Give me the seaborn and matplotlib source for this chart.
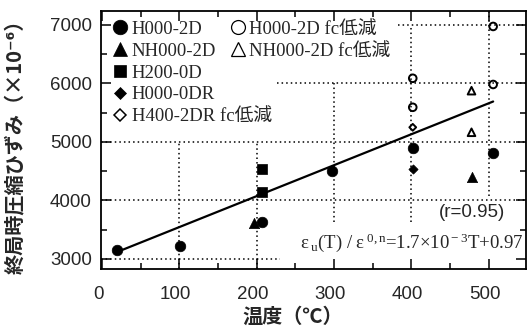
import matplotlib
matplotlib.use("Agg")
import matplotlib.pyplot as plt
from matplotlib.lines import Line2D
from matplotlib.transforms import ScaledTranslation
import numpy as np
import pandas as pd
import seaborn as sns

# ---- measured data: temperature (deg C) vs ultimate compressive strain (x1e-6)
h000_2d_T = [20, 101, 207, 297, 402, 506]
h000_2d_eps = [3155, 3222, 3640, 4510, 4892, 4807]

nh000_2d_T = [197, 478]
nh000_2d_eps = [3620, 4397]

h200_0d_T = [207, 207]
h200_0d_eps = [4530, 4149]

h000_0dr_T = [402]
h000_0dr_eps = [4538]

h400_2dr_fc_T = [402]
h400_2dr_fc_eps = [5251]

h000_2d_fc_T = [402, 402, 506, 506]
h000_2d_fc_eps = [6089, 5593, 6975, 5983]

nh000_2d_fc_T = [478, 478]
nh000_2d_fc_eps = [5877, 5166]

# regression: eps_u(T) / eps0 = 1.7e-3 * T + 0.97
fit_slope = 1.7e-3
fit_intercept = 0.97
fit_eps0 = 3110
fit_T_range = [20, 506]

x_ticks = [0, 100, 200, 300, 400, 500]
y_ticks = [3000, 4000, 5000, 6000, 7000]

sns.set_style("ticks")
plt.rcParams["font.family"] = ["Liberation Sans", "Noto Sans CJK JP", "DejaVu Sans"]
plt.rcParams["mathtext.fontset"] = "custom"
plt.rcParams["mathtext.rm"] = "Liberation Serif"
plt.rcParams["mathtext.it"] = "Liberation Serif"

fig = plt.figure(figsize=(5.27, 3.30), dpi=100)
ax = fig.add_axes([101 / 527, (330 - 269) / 330, (526 - 101) / 527, (269 - 11) / 330])
ax.set_xlim(-1.3, 548.5)
ax.set_ylim(2829, 7239)

# partial dotted guide lines
dot = dict(color="black", linestyle=(0, (1, 2)), linewidth=1.1, zorder=1)
ax.hlines(7000, 383, 548.5, **dot)
ax.hlines(6000, 226, 548.5, **dot)
ax.hlines(5000, -1.3, 548.5, **dot)
ax.hlines(4000, -1.3, 548.5, **dot)
ax.hlines(3000, -1.3, 230, **dot)
ax.vlines(100, 2829, 5000, **dot)
ax.vlines(200, 2829, 5000, **dot)
ax.vlines(300, 3640, 6000, **dot)
ax.vlines(400, 3640, 7000, **dot)
ax.vlines(500, 4070, 7239, **dot)

# regression line
fit_T = np.array(fit_T_range, dtype=float)
fit_eps = fit_eps0 * (fit_slope * fit_T + fit_intercept)
sns.lineplot(x=fit_T, y=fit_eps, ax=ax, color="black", linewidth=1.6, zorder=2)

filled = dict(color="black", edgecolor="black", linewidth=0.5, zorder=3, legend=False)
opened = dict(facecolor="none", edgecolor="black", linewidth=1.4, zorder=3, legend=False)

sns.scatterplot(x=h000_2d_T, y=h000_2d_eps, marker="o", s=58, ax=ax, **filled)
sns.scatterplot(x=nh000_2d_T, y=nh000_2d_eps, marker="^", s=55, ax=ax, **filled)
sns.scatterplot(x=h200_0d_T, y=h200_0d_eps, marker="s", s=42, ax=ax, **filled)
sns.scatterplot(x=h000_0dr_T, y=h000_0dr_eps, marker="D", s=22, ax=ax, **filled)
sns.scatterplot(x=h400_2dr_fc_T, y=h400_2dr_fc_eps, marker="D", s=12, ax=ax, **opened)
sns.scatterplot(x=h000_2d_fc_T, y=h000_2d_fc_eps, marker="o", s=30, ax=ax, **opened)
sns.scatterplot(x=nh000_2d_fc_T, y=nh000_2d_fc_eps, marker="^", s=30, ax=ax, **opened)

# axes, ticks
ax.set_xticks(x_ticks)
ax.set_yticks(y_ticks)
ax.set_xticks(np.arange(50, 550, 100), minor=True)
ax.set_yticks(np.arange(3500, 7500, 1000), minor=True)
ax.tick_params(which="both", direction="in", top=True, right=True, color="black", width=1.1)
ax.tick_params(which="major", length=7)
ax.tick_params(which="minor", length=4.5)
ax.tick_params(axis="x", which="major", pad=12, labelsize=13.5)
ax.tick_params(axis="y", which="major", pad=6.5, labelsize=13.5)
for sp in ax.spines.values():
    sp.set_visible(True)
    sp.set_linewidth(1.3)
    sp.set_color("black")
shift = ScaledTranslation(-4 / 100, 0, fig.dpi_scale_trans)
for lab in ax.get_xticklabels():
    lab.set_transform(lab.get_transform() + shift)
ax.set_xlabel("")
ax.set_ylabel("")

cjk = ["Noto Sans CJK JP", "DejaVu Sans"]
fig.text(293 / 527, 1 - 316 / 330, "温度（℃）", family=cjk, fontsize=14.5,
         fontweight="bold", ha="center", va="center")
fig.text(15 / 527, 1 - 142 / 330, "終局時圧縮ひずみ（×10⁻⁶）", family=cjk, fontsize=14.5,
         fontweight="bold", rotation=90, ha="center", va="center")

# legend, two blocks
serif = ["Liberation Serif", "Noto Sans CJK JP", "DejaVu Sans"]
leg_font = dict(family=serif, size=13.5)

def handle(marker, ms, fill=True, mew=0.5):
    return Line2D([], [], linestyle="none", marker=marker, markersize=ms,
                  markerfacecolor="black" if fill else "none",
                  markeredgecolor="black", markeredgewidth=mew)

h_left = [handle("o", 10.5), handle("^", 10.5), handle("s", 8.5),
          handle("D", 6.6), handle("D", 6.6, fill=False, mew=1.1)]
l_left = ["H000-2D", "NH000-2D", "H200-0D", "H000-0DR", "H400-2DR fc低減"]
leg1 = ax.legend(h_left, l_left, loc="upper left", bbox_to_anchor=(0.026, 0.962),
                 frameon=False, prop=leg_font, handlelength=0.9, handletextpad=0.15,
                 labelspacing=0.25, borderpad=0, borderaxespad=0)
ax.add_artist(leg1)
h_right = [handle("o", 10, fill=False, mew=0.9), handle("^", 10, fill=False, mew=0.9)]
l_right = ["H000-2D fc低減", "NH000-2D fc低減"]
ax.legend(h_right, l_right, loc="upper left", bbox_to_anchor=(0.302, 0.962),
          frameon=False, prop=leg_font, handlelength=0.9, handletextpad=0.15,
          labelspacing=0.25, borderpad=0, borderaxespad=0)

# annotations
ax.text(479, 3795, "(r=0.95)", fontsize=13.5, ha="center", va="center")
ax.text(546, 3274,
        r"$\varepsilon\,_{\rm u}$(T) / $\varepsilon\,^{\rm 0,n}$=1.7$\times$10$^{\rm -3}$T+0.97",
        fontsize=13.5, ha="right", va="center", family=serif)

fig.savefig("out.png", dpi=100, facecolor="white")
